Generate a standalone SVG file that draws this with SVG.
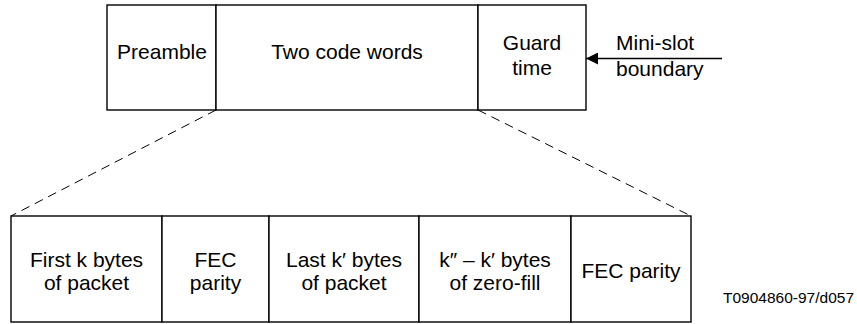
<svg xmlns="http://www.w3.org/2000/svg" width="857" height="324" viewBox="0 0 857 324">
<defs>
<style>
.box{fill:#fff;stroke:#000;stroke-width:1.4}
.t{font-family:"Liberation Sans",Arial,sans-serif;font-size:21px;fill:#000;text-anchor:middle}
.l{font-family:"Liberation Sans",Arial,sans-serif;font-size:21px;fill:#000}
.s{font-family:"Liberation Sans",Arial,sans-serif;font-size:15.5px;fill:#000}
.dash{stroke:#000;stroke-width:1;stroke-dasharray:9,6;fill:none}
.ln{stroke:#000;stroke-width:1.6;fill:none}
</style>
<marker id="ah" viewBox="0 0 12 12" refX="12" refY="6" markerWidth="13" markerHeight="12" markerUnits="userSpaceOnUse" orient="auto">
<path d="M0,0 L12,6 L0,12 z" fill="#000"/>
</marker>
</defs>
<rect width="857" height="324" fill="#fff"/>
<g id="preamble"><rect class="box" x="107" y="5" width="109" height="105"/><text class="t" x="162" y="59">Preamble</text></g>
<g id="codewords"><rect class="box" x="216" y="5" width="262" height="105"/><text class="t" x="347" y="59">Two code words</text></g>
<g id="guard"><rect class="box" x="478" y="5" width="108" height="105"/><text class="t" x="532" y="50">Guard</text><text class="t" x="532" y="75">time</text></g>
<g id="minislot"><text class="l" x="616" y="50">Mini-slot</text><text class="l" x="616" y="76">boundary</text></g>
<g id="b1"><rect class="box" x="11" y="216" width="151" height="106"/><text class="t" x="86.5" y="267">First k bytes</text><text class="t" x="86.5" y="290">of packet</text></g>
<g id="b2"><rect class="box" x="162" y="216" width="107" height="106"/><text class="t" x="215.5" y="267">FEC</text><text class="t" x="215.5" y="290">parity</text></g>
<g id="b3"><rect class="box" x="269" y="216" width="150" height="106"/><text class="t" x="344" y="267">Last k′ bytes</text><text class="t" x="344" y="290">of packet</text></g>
<g id="b4"><rect class="box" x="419" y="216" width="152" height="106"/><text class="t" x="495" y="267">k″ – k′ bytes</text><text class="t" x="495" y="290">of zero-fill</text></g>
<g id="b5"><rect class="box" x="571" y="216" width="120" height="106"/><text class="t" x="631" y="278">FEC parity</text></g>
<g id="connectors">
<line class="dash" x1="216" y1="110" x2="11" y2="216"/>
<line class="dash" x1="478" y1="110" x2="691" y2="216"/>
<line class="ln" x1="722" y1="58.5" x2="586" y2="58.5" marker-end="url(#ah)"/>
</g>
<text class="s" x="723" y="303">T0904860-97/d057</text>
</svg>
